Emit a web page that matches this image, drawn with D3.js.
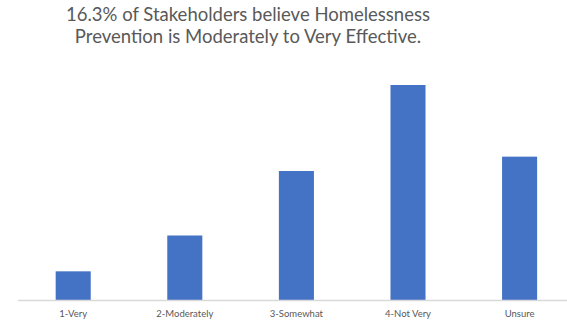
<!DOCTYPE html>
<html><head><meta charset="utf-8">
<script src="https://cdn.jsdelivr.net/npm/d3@7"></script>
<style>body{margin:0;background:#fff}</style>
</head><body>
<svg id="chart" width="567" height="324"></svg>
<script>
const categories = ["1-Very", "2-Moderately", "3-Somewhat", "4-Not Very", "Unsure"];
const values = [4, 9, 18, 30, 20];
const titleLines = ["16.3% of Stakeholders believe Homelessness", "Prevention is Moderately to Very Effective."];

const svg = d3.select("#chart");
const W = 567, H = 324;
const x = d3.scaleBand().domain(categories).range([17.4, 575.4]).paddingInner(0.686).paddingOuter(0.343);
const y = d3.scaleLinear().domain([0, 30]).range([300, 85]);

svg.append("g").selectAll("text").data(titleLines).join("text")
  .attr("x", 248).attr("y", (d, i) => 21 + i * 22)
  .attr("text-anchor", "middle")
  .attr("font-family", "Lato, 'Open Sans', sans-serif")
  .attr("font-size", 18.5)
  .attr("fill", "#595959")
  .text(d => d);

svg.append("g").selectAll("rect").data(values).join("rect")
  .attr("x", (d, i) => x(categories[i]))
  .attr("width", x.bandwidth())
  .attr("y", d => y(d))
  .attr("height", d => y(0) - y(d))
  .attr("fill", "#4472c4");

const axis = d3.axisBottom(x).tickSize(0).tickPadding(10);
const gx = svg.append("g").attr("transform", "translate(0,300)").call(axis);
gx.select(".domain").attr("stroke", "#d9d9d9").attr("stroke-width", 1.3);
gx.selectAll("text").attr("font-family", "Lato, 'Open Sans', sans-serif")
  .attr("font-size", 9.5).attr("fill", "#595959");
</script>
</body></html>
